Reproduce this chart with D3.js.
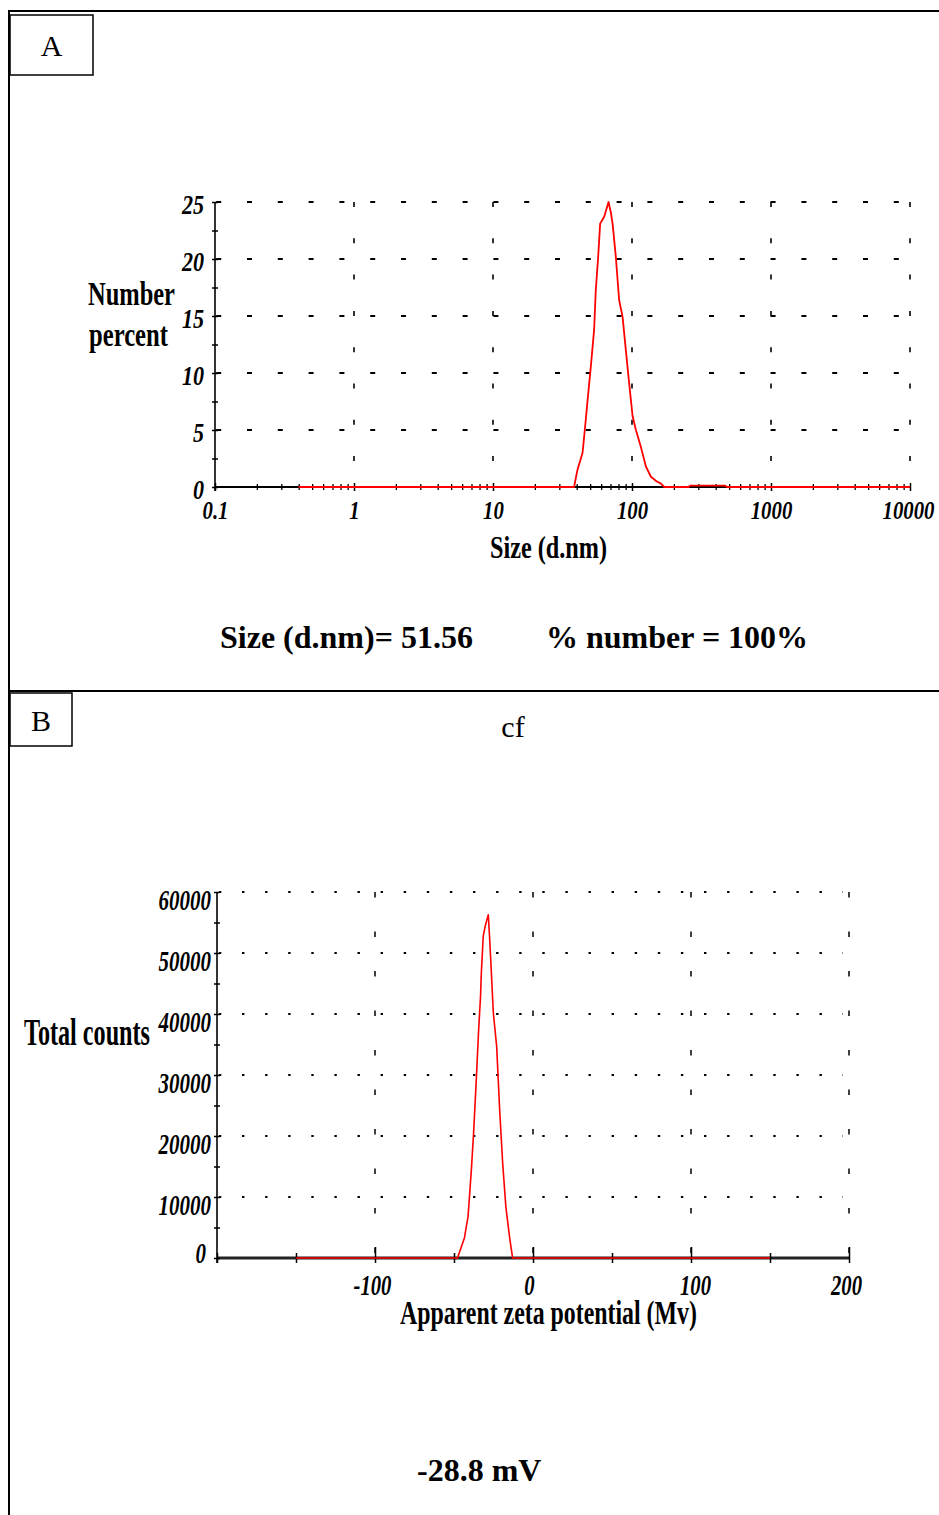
<!DOCTYPE html>
<html>
<head>
<meta charset="utf-8">
<script src="https://cdn.jsdelivr.net/npm/d3@7"></script>
<style>
  body { margin: 0; background: #fff; }
  svg text { font-family: "Liberation Serif", "Times New Roman", serif; fill: #000; }
</style>
</head>
<body>
<svg id="fig" width="939" height="1515"></svg>
<script>
"use strict"
/* Two stacked instrument plots: A = DLS size distribution by number,
 * B = zeta potential distribution. */

// ---- Panel A data: size (d.nm) vs number percent
var sizeNm    = [0.4, 38.3, 40.5, 44.1, 46.5, 47.9, 50.6, 53.4, 54.9, 57.1, 59.0, 63.1, 67.8,
                 70.4, 72.5, 76.5, 80.8, 85.6, 90.3, 95.4, 101, 106.7, 115.9, 125.9, 136.8,
                 150, 161.5, 170.7, 255, 262, 470, 480, 10000];
var numberPct = [0, 0, 1.5, 3.0, 5.9, 7.6, 10.6, 13.8, 17.3, 20.2, 23.1, 23.7, 25.0,
                 24.1, 23.1, 20.2, 16.4, 14.9, 12.0, 9.1, 6.2, 5.0, 3.5, 1.8, 0.9,
                 0.5, 0.3, 0, 0, 0.12, 0.12, 0, 0];
var sizeTicks      = [0.1, 1, 10, 100, 1000, 10000];
var sizeTickLabels = ["0.1", "1", "10", "100", "1000", "10000"];
var pctTicks       = [0, 5, 10, 15, 20, 25];
var pctMinorTicks  = [2.5, 7.5, 12.5, 17.5, 22.5];

// ---- Panel B data: apparent zeta potential vs total counts
var zetaMv      = [-150, -47.8, -43.4, -41.1, -39.0, -37.6, -36.1, -34.4, -33.2, -32.7, -31.5,
                   -30.3, -28.3, -27.4, -26.8, -25.1, -23.0, -21.0, -19.2, -17.2, -14.9, -12.9, 150];
var totalCounts = [0, 0, 3280, 6820, 14480, 20490, 28130, 37430, 42890, 46720, 52720,
                   54360, 56280, 52180, 49180, 40160, 34690, 23770, 15570, 8460, 3540, 0, 0];
var zetaTicks       = [-100, 0, 100, 200];
var zetaTickLabels  = ["-100", "0", "100", "200"];
var zetaMinorTicks  = [-200, -150, -50, 50, 150];
var countTicks      = [0, 10000, 20000, 30000, 40000, 50000, 60000];
var countMinorTicks = [5000, 15000, 25000, 35000, 45000, 55000];

var svg = d3.select("#fig"),
    FONT = '"Liberation Serif", "Times New Roman", serif';

// outer frame of the figure table
svg.append("path")
    .attr("d", "M9,1515V11H939M9,691H939")
    .attr("fill", "none").attr("stroke", "#000").attr("stroke-width", 2);

// panel letter boxes
function letterBox(x, y, w, h, letter) {
  svg.append("rect").attr("x", x).attr("y", y).attr("width", w).attr("height", h)
      .attr("fill", "none").attr("stroke", "#000").attr("stroke-width", 1.5);
  svg.append("text").attr("x", x + w / 2).attr("y", y + h / 2 + 11)
      .attr("text-anchor", "middle").style("font-size", "30px").text(letter);
}
letterBox(10, 15, 83, 60, "A");
letterBox(10, 693, 62, 53, "B");

// condensed bold labels: the printout squeezes its fonts, so use a smaller
// font that fits `len` and stretch it back up vertically
function squeezed(x, y, str, size, len) {
  var t = svg.append("text").style("font-size", size + "px").style("font-weight", "bold").text(str);
  var k = len / t.node().getComputedTextLength();
  return t.style("font-size", (size * k) + "px")
      .attr("transform", "translate(" + x + "," + y + ") scale(1," + (1 / k) + ")");
}

// tick text: bold italic, same squeeze trick; dx/dy place the baseline anchor
function tickText(g, size, sx, dx, dy) {
  g.attr("font-family", FONT).attr("font-size", null);
  g.selectAll(".tick text")
      .style("font-size", (size * sx) + "px").style("font-weight", "bold").style("font-style", "italic")
      .attr("fill", "#000").attr("x", null).attr("y", null).attr("dy", null)
      .attr("transform", function(d) {
        return "translate(" + dx(d) + "," + dy(d) + ") scale(1," + (1 / sx) + ")";
      });
}

function grid(g, data, coords, dash, offset, sw) {
  g.selectAll(null).data(data).join("line")
      .each(function(d) {
        var c = coords(d);
        d3.select(this).attr("x1", c[0]).attr("y1", c[1]).attr("x2", c[2]).attr("y2", c[3]);
      })
      .attr("stroke", "#000").attr("stroke-width", sw)
      .attr("stroke-dasharray", dash).attr("stroke-dashoffset", offset);
}

function constant(v) { return function() { return v; }; }

// =================== Panel A ===================
var xA = d3.scaleLog().domain([0.1, 10000]).range([215, 910]),
    yA = d3.scaleLinear().domain([0, 25]).range([487, 202]);

var gA = svg.append("g");

// dashed grid
grid(gA.append("g"), pctTicks.slice(1),
     function(d) { return [xA.range()[0], yA(d), xA.range()[1], yA(d)]; }, "5,25.8", 29.6, 1.8);
grid(gA.append("g"), sizeTicks.slice(1),
     function(d) { return [xA(d), yA(25), xA(d), yA(0)]; }, "5,31.3", 0, 1.6);

// axis lines
gA.append("line").attr("x1", xA(0.1)).attr("x2", xA(0.1)).attr("y1", yA(25)).attr("y2", yA(0) + 4)
    .attr("stroke", "#000").attr("stroke-width", 1.6);
gA.append("line").attr("x1", xA(0.1)).attr("x2", xA(10000)).attr("y1", yA(0)).attr("y2", yA(0))
    .attr("stroke", "#000").attr("stroke-width", 2);

// x axis: decade labels + log minor ticks
var minorSizes = xA.ticks().filter(function(d) { return sizeTicks.indexOf(d) < 0; });
var gxA = gA.append("g").attr("transform", "translate(0," + yA(0) + ")")
    .call(d3.axisBottom(xA).tickValues(sizeTicks)
      .tickFormat(function(d, i) { return sizeTickLabels[i]; }).tickSize(4));
gxA.select(".domain").remove();
gxA.selectAll(".tick line").attr("y1", -4).attr("y2", 4).attr("stroke-width", 1.5);
tickText(gxA, 26, 0.8, function(d) { return d === 10000 ? -2 : 0; }, constant(32));

var gxAm = gA.append("g").attr("transform", "translate(0," + yA(0) + ")")
    .call(d3.axisBottom(xA).tickValues(minorSizes).tickFormat("").tickSize(3));
gxAm.select(".domain").remove();
gxAm.selectAll(".tick line").attr("y1", -3).attr("y2", 3).attr("stroke-width", 1.3);

// y axis
var gyA = gA.append("g").attr("transform", "translate(" + xA(0.1) + ",0)")
    .call(d3.axisLeft(yA).tickValues(pctTicks).tickFormat(d3.format("d")).tickSize(3));
gyA.select(".domain").remove();
gyA.selectAll(".tick line").attr("x1", -3).attr("x2", 3).attr("stroke-width", 1.5);
tickText(gyA, 27, 0.82, constant(-11), constant(11));

var gyAm = gA.append("g").attr("transform", "translate(" + xA(0.1) + ",0)")
    .call(d3.axisLeft(yA).tickValues(pctMinorTicks).tickFormat("").tickSize(3));
gyAm.select(".domain").remove();
gyAm.selectAll(".tick line").attr("x1", -3).attr("x2", 3).attr("stroke-width", 1.5);

// distribution curve
gA.append("path")
    .datum(d3.zip(sizeNm, numberPct))
    .attr("fill", "none").attr("stroke", "#ff0000").attr("stroke-width", 1.8)
    .attr("stroke-linejoin", "round")
    .attr("d", d3.line().x(function(d) { return xA(d[0]); }).y(function(d) { return yA(d[1]); }));

squeezed(88, 305, "Number", 33, 87);
squeezed(89, 346, "percent", 33, 79);
squeezed(490, 558, "Size (d.nm)", 32, 117);

svg.append("text").attr("x", 220).attr("y", 648)
    .style("font-size", "32px").style("font-weight", "bold").text("Size (d.nm)= 51.56");
svg.append("text").attr("x", 546).attr("y", 648)
    .style("font-size", "32px").style("font-weight", "bold").text("% number = 100%");

// =================== Panel B ===================
svg.append("text").attr("x", 513).attr("y", 737).attr("text-anchor", "middle")
    .style("font-size", "30px").text("cf");

var xB = d3.scaleLinear().domain([-200, 200]).range([217, 849]),
    yB = d3.scaleLinear().domain([0, 60000]).range([1258, 892]);

var gB = svg.append("g");

// dotted horizontal grid, dashed vertical grid
grid(gB.append("g"), countTicks.slice(1),
     function(d) { return [xB.range()[0], yB(d), xB.range()[1] - 6, yB(d)]; }, "2.4,20.7", 21.2, 2.2);
grid(gB.append("g"), zetaTicks,
     function(d) { return [xB(d), yB(60000), xB(d), yB(0)]; }, "5.5,34", 0, 1.5);

// axis lines
gB.append("line").attr("x1", xB(-200)).attr("x2", xB(-200)).attr("y1", yB(60000)).attr("y2", yB(0) + 5)
    .attr("stroke", "#000").attr("stroke-width", 1.6);
gB.append("line").attr("x1", xB(-200)).attr("x2", xB(200)).attr("y1", yB(0)).attr("y2", yB(0))
    .attr("stroke", "#222").attr("stroke-width", 3);

var gxB = gB.append("g").attr("transform", "translate(0," + yB(0) + ")")
    .call(d3.axisBottom(xB).tickValues(zetaTicks)
      .tickFormat(function(d, i) { return zetaTickLabels[i]; }).tickSize(5));
gxB.select(".domain").remove();
gxB.selectAll(".tick line").attr("y1", -11).attr("y2", 5).attr("stroke-width", 1.5);
tickText(gxB, 30, 0.69, function(d) { return d === 0 ? -4 : (d === 100 ? 4 : -3); }, constant(37));

var gxBm = gB.append("g").attr("transform", "translate(0," + yB(0) + ")")
    .call(d3.axisBottom(xB).tickValues(zetaMinorTicks).tickFormat("").tickSize(5));
gxBm.select(".domain").remove();
gxBm.selectAll(".tick line").attr("y1", -5).attr("y2", 5).attr("stroke-width", 1.5);

var gyB = gB.append("g").attr("transform", "translate(" + xB(-200) + ",0)")
    .call(d3.axisLeft(yB).tickValues(countTicks).tickFormat(d3.format("d")).tickSize(3));
gyB.select(".domain").remove();
gyB.selectAll(".tick line").attr("x1", -3).attr("x2", 3).attr("stroke-width", 1.5);
tickText(gyB, 30, 0.7,
         function(d) { return d === 0 ? -11 : -6; },
         function(d) { return d === 0 ? 4 : 17; });

var gyBm = gB.append("g").attr("transform", "translate(" + xB(-200) + ",0)")
    .call(d3.axisLeft(yB).tickValues(countMinorTicks).tickFormat("").tickSize(3));
gyBm.select(".domain").remove();
gyBm.selectAll(".tick line").attr("x1", -3).attr("x2", 3).attr("stroke-width", 1.5);

gB.append("path")
    .datum(d3.zip(zetaMv, totalCounts))
    .attr("fill", "none").attr("stroke", "#ff0000").attr("stroke-width", 1.6)
    .attr("stroke-linejoin", "round")
    .attr("d", d3.line().x(function(d) { return xB(d[0]); }).y(function(d) { return yB(d[1]); }));

squeezed(24, 1045, "Total counts", 37, 126);
squeezed(400, 1324, "Apparent zeta potential (Mv)", 34, 297);

svg.append("text").attr("x", 417).attr("y", 1481)
    .style("font-size", "32px").style("font-weight", "bold").text("-28.8 mV");
</script>
</body>
</html>
